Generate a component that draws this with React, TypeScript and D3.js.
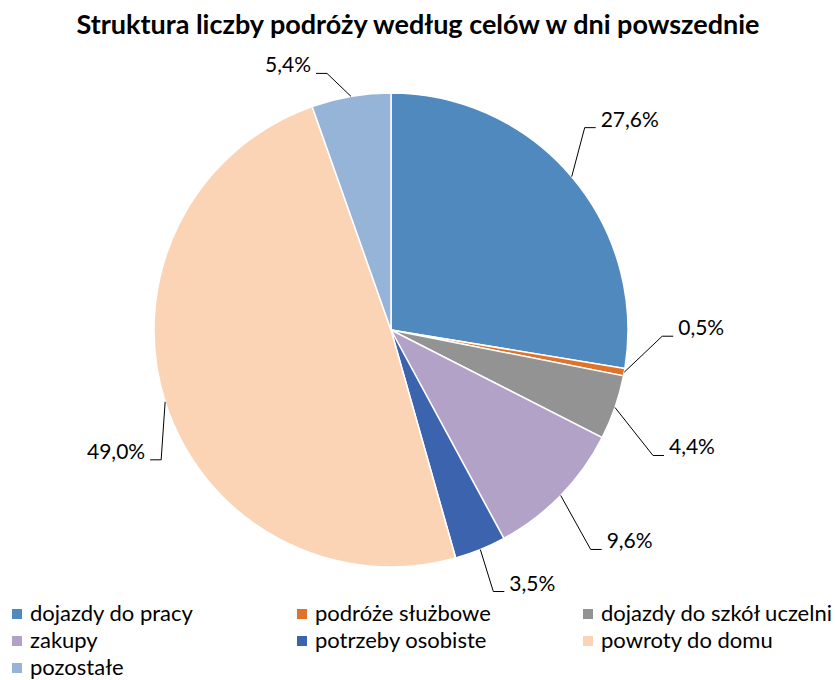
import React from "react";
import * as d3 from "d3";

const categories = [
  "dojazdy do pracy",
  "podróże służbowe",
  "dojazdy do szkół uczelni",
  "zakupy",
  "potrzeby osobiste",
  "powroty do domu",
  "pozostałe",
];
const values = [27.6, 0.5, 4.4, 9.6, 3.5, 49.0, 5.4];
const colors = ["#4F89BE", "#E0722A", "#939393", "#B3A2C8", "#3C64AE", "#FBD4B6", "#96B3D8"];
const title = "Struktura liczby podróży według celów w dni powszednie";

// label leader layout: elbow offset from slice edge point, horizontal run direction
const leaderDx = [13, 38, 38, 30, 13, -4, -24];
const leaderDy = [-49, -36, 48, 54, 42, 58, -23];

const W = 837;
const H = 680;
const cx = 391;
const cy = 330;
const R = 237;
const FONT = "Lato, 'Open Sans', sans-serif";

export default function App() {
  const pie = d3.pie<number>().sort(null).value((d) => d)(values);
  const arc = d3.arc<d3.PieArcDatum<number>>().innerRadius(0).outerRadius(R);
  const fmt = (v: number) => v.toFixed(1).replace(".", ",") + "%";

  const legendCols = [12, 297, 583];
  const legendRows = [614, 641, 668];

  return (
    <svg width={W} height={H} style={{ position: "absolute", left: 0, top: 0, background: "#fff" }}>
      <text x={418} y={34} textAnchor="middle" fontFamily={FONT} fontWeight="bold" fontSize={27} fill="#000">
        {title}
      </text>
      <g transform={`translate(${cx},${cy})`}>
        {pie.map((p, i) => (
          <path key={i} d={arc(p) || ""} fill={colors[i]} stroke="#fff" strokeWidth={1.5} />
        ))}
      </g>
      {pie.map((p, i) => {
        const a = (p.startAngle + p.endAngle) / 2;
        const sx = cx + R * Math.sin(a);
        const sy = cy - R * Math.cos(a);
        const ex = sx + leaderDx[i];
        const ey = sy + leaderDy[i];
        const right = Math.sin(a) >= 0;
        const hx = ex + (right ? 11 : -11);
        const tx = hx + (right ? 5 : -5);
        return (
          <g key={i}>
            <polyline points={`${sx},${sy} ${ex},${ey} ${hx},${ey}`} fill="none" stroke="#000" strokeWidth={1} />
            <text x={tx} y={ey - 1} textAnchor={right ? "start" : "end"} fontFamily={FONT} fontSize={21} fill="#000">
              {fmt(values[i])}
            </text>
          </g>
        );
      })}
      {categories.map((c, i) => {
        const x = legendCols[i % 3];
        const y = legendRows[Math.floor(i / 3)];
        return (
          <g key={c}>
            <rect x={x} y={y - 5} width={10} height={10} fill={colors[i]} />
            <text x={x + 18} y={y + 7} fontFamily={FONT} fontSize={22} fill="#000">
              {c}
            </text>
          </g>
        );
      })}
    </svg>
  );
}
